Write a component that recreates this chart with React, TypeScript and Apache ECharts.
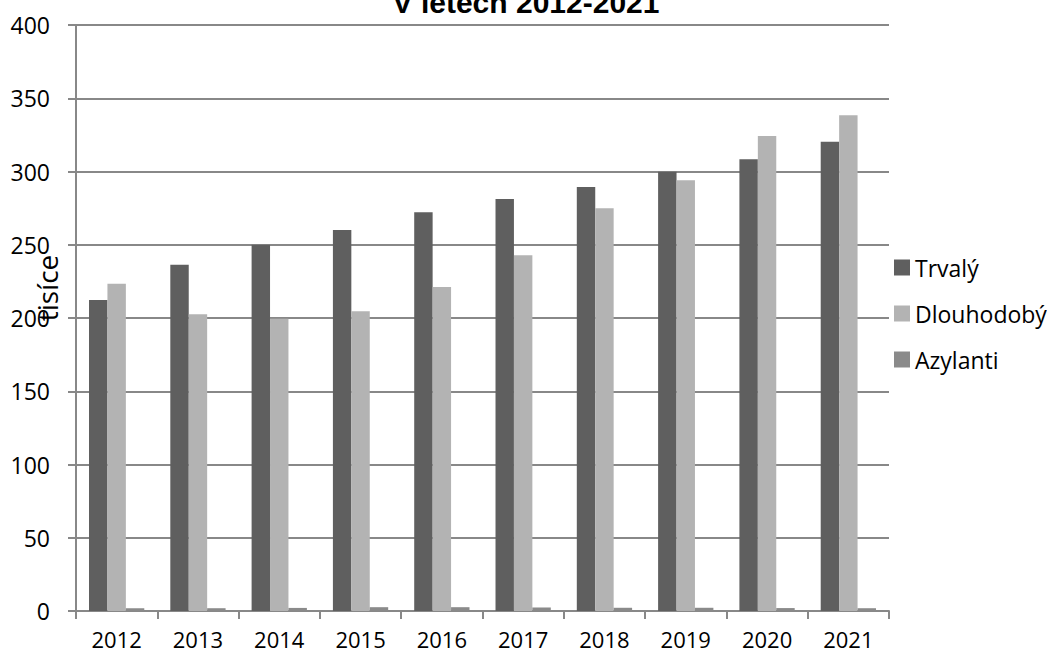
import React, { useEffect, useRef } from "react";
import * as echarts from "echarts";

const years = ["2012", "2013", "2014", "2015", "2016", "2017", "2018", "2019", "2020", "2021"];
const trvaly = [212.3, 236.4, 250.0, 260.0, 272.1, 281.2, 289.4, 299.9, 308.3, 320.3];
const dlouhodoby = [223.4, 202.5, 199.5, 204.6, 221.2, 242.8, 274.9, 294.0, 324.2, 338.4];
const azylanti = [1.8, 1.9, 2.1, 2.6, 2.6, 2.4, 2.2, 2.2, 2.0, 1.9];
const seriesNames = ["Trvalý", "Dlouhodobý", "Azylanti"];
const colors = ["#5f5f5f", "#b3b3b3", "#8a8a8a"];
const titleText = "V letech 2012-2021";
const yAxisTitle = "tisíce";

const FONT = "'Open Sans', 'Noto Sans', sans-serif";
const AXIS_COLOR = "#888888";

export default function App() {
  const ref = useRef<HTMLDivElement>(null);
  useEffect(() => {
    if (!ref.current) return;
    const chart = echarts.init(ref.current, undefined, { renderer: "svg" });
    const data = [trvaly, dlouhodoby, azylanti];
    chart.setOption({
      animation: false,
      backgroundColor: "#ffffff",
      grid: { left: 76, top: 25, right: 158, bottom: 45, containLabel: false },
      legend: {
        orient: "vertical",
        left: 889,
        top: 251,
        itemWidth: 16,
        itemHeight: 16,
        itemGap: 23,
        icon: "rect",
        data: seriesNames,
        textStyle: { fontFamily: FONT, fontSize: 23, color: "#000" },
      },
      graphic: [
        {
          type: "text",
          x: 526,
          y: 17,
          style: {
            text: titleText,
            fontFamily: "'Liberation Sans', Arial, sans-serif",
            fontWeight: "bold",
            fontSize: 30,
            fill: "#000",
            align: "center",
            verticalAlign: "bottom",
          },
        },
        {
          type: "text",
          x: 47,
          y: 288,
          rotation: Math.PI / 2,
          style: {
            text: yAxisTitle,
            fontFamily: FONT,
            fontSize: 28,
            fill: "#000",
            align: "center",
            verticalAlign: "middle",
          },
        },
      ],
      xAxis: {
        type: "category",
        data: years,
        boundaryGap: true,
        axisLine: { show: true, lineStyle: { color: AXIS_COLOR, width: 2 } },
        axisTick: { show: true, length: 8, alignWithLabel: false, lineStyle: { color: AXIS_COLOR, width: 2 } },
        axisLabel: { fontFamily: FONT, fontSize: 22, lineHeight: 22, color: "#000", margin: 17 },
        splitLine: { show: false },
      },
      yAxis: {
        type: "value",
        min: 0,
        max: 400,
        interval: 50,
        axisLine: { show: true, lineStyle: { color: AXIS_COLOR, width: 2 } },
        axisTick: { show: true, length: 8, lineStyle: { color: AXIS_COLOR, width: 2 } },
        axisLabel: { fontFamily: FONT, fontSize: 23, color: "#000", margin: 26 },
        splitLine: { show: true, lineStyle: { color: AXIS_COLOR, width: 2 } },
      },
      series: seriesNames.map((name, i) => ({
        name,
        type: "bar",
        data: data[i],
        barGap: "0%",
        barCategoryGap: "32%",
        itemStyle: { color: colors[i] },
      })),
    });
    return () => chart.dispose();
  }, []);
  return <div ref={ref} style={{ width: 1047, height: 656, position: "absolute", left: 0, top: 0 }} />;
}
